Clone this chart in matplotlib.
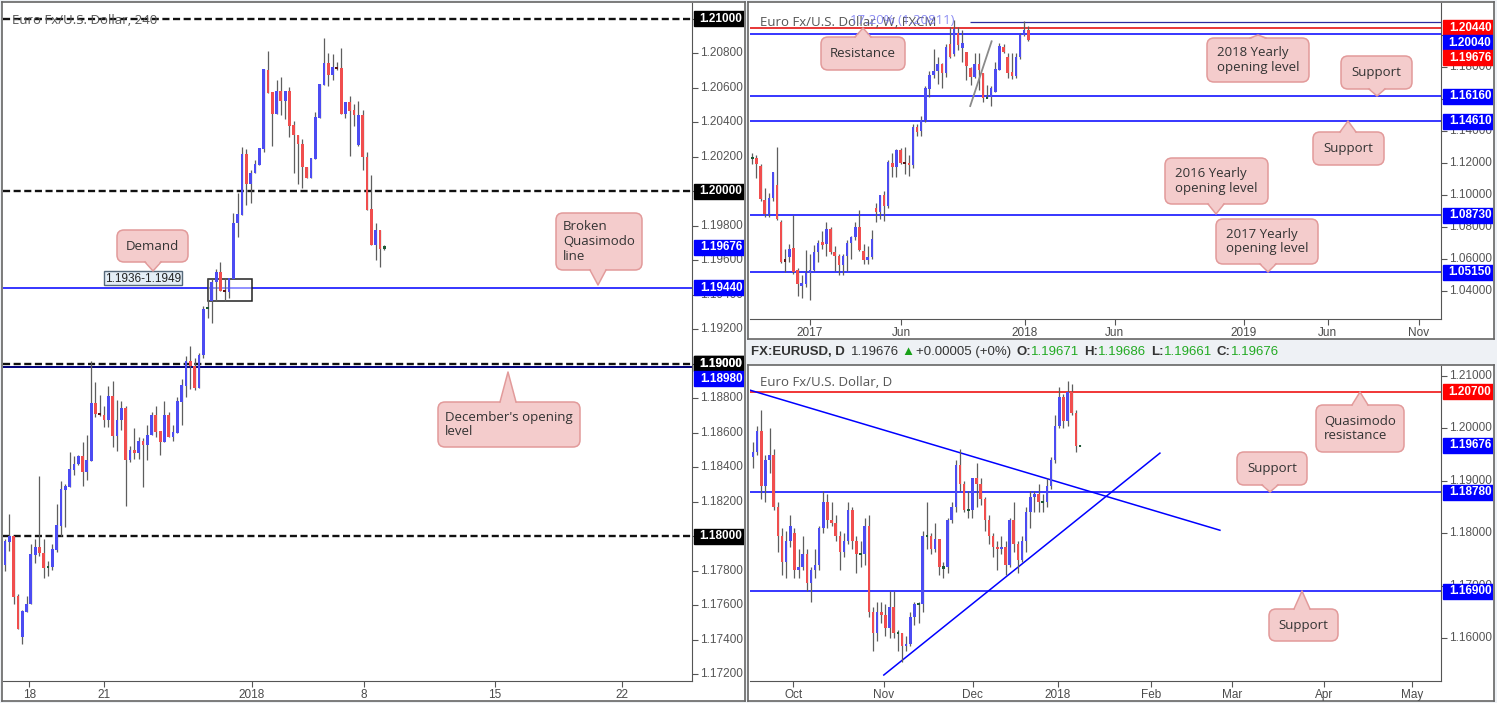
import numpy as np
import matplotlib.pyplot as plt
from matplotlib.patches import Rectangle, FancyBboxPatch, Polygon

plt.rcParams['font.family'] = ['Liberation Sans', 'DejaVu Sans']

# ---- 4h EURUSD (left panel) ----
h4_open = [1.17831, 1.17966, 1.17999, 1.17651, 1.17416, 1.17561, 1.17609, 1.17889, 1.17936, 1.17906,
           1.17816, 1.17821, 1.17918, 1.18059, 1.18268, 1.18285, 1.18382, 1.18417, 1.18463, 1.18372,
           1.18436, 1.18770, 1.18714, 1.18706, 1.18673, 1.18811, 1.18581, 1.18673, 1.18741, 1.18442,
           1.18498, 1.18482, 1.18550, 1.18529, 1.18587, 1.18706, 1.18608, 1.18546, 1.18701, 1.18575,
           1.18598, 1.18778, 1.18874, 1.19014, 1.18990, 1.18859, 1.19051, 1.19320, 1.19366, 1.19473,
           1.19532, 1.19426, 1.19418, 1.19490, 1.19815, 1.19863, 1.20216, 1.20043, 1.20104, 1.20155,
           1.20247, 1.20703, 1.20578, 1.20446, 1.20580, 1.20526, 1.20580, 1.20384, 1.20325, 1.20274,
           1.20143, 1.20075, 1.20189, 1.20425, 1.20618, 1.20746, 1.20674, 1.20717, 1.20715, 1.20448,
           1.20518, 1.20471, 1.20269, 1.20444, 1.20197, 1.19898, 1.19689, 1.19776, 1.19672]
h4_high = [1.17986, 1.18127, 1.17999, 1.17663, 1.17570, 1.17651, 1.17953, 1.17986, 1.18347, 1.17982,
           1.17854, 1.17957, 1.18185, 1.18318, 1.18304, 1.18486, 1.18463, 1.18471, 1.18544, 1.18585,
           1.19019, 1.18892, 1.18822, 1.18758, 1.18869, 1.18898, 1.18793, 1.18787, 1.18758, 1.18521,
           1.18625, 1.18573, 1.18567, 1.18643, 1.18720, 1.18758, 1.18608, 1.18787, 1.18718, 1.18648,
           1.18805, 1.18911, 1.19044, 1.19106, 1.19031, 1.19060, 1.19335, 1.19490, 1.19490, 1.19550,
           1.19588, 1.19496, 1.19496, 1.19876, 1.19992, 1.20259, 1.20243, 1.20124, 1.20182, 1.20251,
           1.20707, 1.20813, 1.20578, 1.20645, 1.20665, 1.20580, 1.20603, 1.20410, 1.20325, 1.20303,
           1.20143, 1.20195, 1.20462, 1.20622, 1.20891, 1.20800, 1.20796, 1.20752, 1.20829, 1.20518,
           1.20553, 1.20506, 1.20526, 1.20471, 1.20228, 1.20095, 1.19818, 1.19776, 1.19689]
h4_low = [1.17798, 1.17914, 1.17609, 1.17462, 1.17377, 1.17561, 1.17609, 1.17845, 1.17883, 1.17758,
          1.17769, 1.17802, 1.17908, 1.18001, 1.18053, 1.18285, 1.18355, 1.18413, 1.18291, 1.18324,
          1.18436, 1.18691, 1.18695, 1.18633, 1.18633, 1.18517, 1.18494, 1.18616, 1.18175, 1.18430,
          1.18447, 1.18447, 1.18285, 1.18442, 1.18587, 1.18575, 1.18471, 1.18546, 1.18575, 1.18552,
          1.18598, 1.18645, 1.18807, 1.18853, 1.18847, 1.18859, 1.19032, 1.19264, 1.19239, 1.19366,
          1.19424, 1.19366, 1.19380, 1.19490, 1.19737, 1.19863, 1.19921, 1.19930, 1.20104, 1.20153,
          1.20230, 1.20572, 1.20265, 1.20446, 1.20442, 1.20417, 1.20317, 1.20108, 1.20041, 1.20017,
          1.20075, 1.20075, 1.20189, 1.20425, 1.20618, 1.20611, 1.20645, 1.20703, 1.20448, 1.20423,
          1.20205, 1.20379, 1.20263, 1.20124, 1.19892, 1.19689, 1.19602, 1.19563, 1.19660]
h4_close = [1.17970, 1.17999, 1.17648, 1.17462, 1.17564, 1.17609, 1.17895, 1.17936, 1.17903, 1.17816,
            1.17825, 1.17924, 1.18063, 1.18272, 1.18289, 1.18388, 1.18420, 1.18463, 1.18372, 1.18440,
            1.18770, 1.18708, 1.18702, 1.18673, 1.18811, 1.18581, 1.18677, 1.18741, 1.18442, 1.18498,
            1.18482, 1.18550, 1.18529, 1.18590, 1.18706, 1.18604, 1.18546, 1.18701, 1.18575, 1.18602,
            1.18782, 1.18880, 1.19014, 1.18985, 1.18859, 1.19054, 1.19318, 1.19324, 1.19473, 1.19532,
            1.19424, 1.19422, 1.19496, 1.19818, 1.19871, 1.20216, 1.20043, 1.20104, 1.20158, 1.20251,
            1.20707, 1.20572, 1.20446, 1.20580, 1.20526, 1.20580, 1.20379, 1.20325, 1.20274, 1.20139,
            1.20075, 1.20193, 1.20429, 1.20622, 1.20746, 1.20674, 1.20719, 1.20713, 1.20448, 1.20518,
            1.20468, 1.20440, 1.20444, 1.20197, 1.19892, 1.19689, 1.19776, 1.19666, 1.19676]
h4_tick_pos = [5.6, 23.0, 57.3, 83.3, 113.7, 143.2]
h4_tick_labels = ['18', '21', '2018', '8', '15', '22']
h4_round_levels = [1.21, 1.20, 1.19, 1.18]
h4_demand = (1.19364, 1.19490)
h4_demand_span = (47.1, 57.2)

# ---- weekly EURUSD (top right) ----
wk_open = [1.1228, 1.1232, 1.1182, 1.0968, 1.0880, 1.0980, 1.1060, 1.0832, 1.0590, 1.0609,
           1.0665, 1.0530, 1.0432, 1.0442, 1.0513, 1.0530, 1.0645, 1.0700, 1.0690, 1.0785,
           1.0640, 1.0615, 1.0560, 1.0620, 1.0700, 1.0735, 1.0800, 1.0651, 1.0590, 1.0612,
           1.0915, 1.0895, 1.1000, 1.0930, 1.1201, 1.1176, 1.1280, 1.1200, 1.1197, 1.1187,
           1.1422, 1.1400, 1.1468, 1.1660, 1.1750, 1.1775, 1.1816, 1.1760, 1.1943, 1.1881,
           1.2014, 1.1916, 1.1895, 1.1791, 1.1735, 1.1816, 1.1760, 1.1604, 1.1614, 1.1645,
           1.1781, 1.1922, 1.1860, 1.1770, 1.1743, 1.1860, 1.2000, 1.2031]
wk_high = [1.1260, 1.1249, 1.1190, 1.1040, 1.1009, 1.1145, 1.1301, 1.0843, 1.0659, 1.0692,
           1.0874, 1.0540, 1.0498, 1.0655, 1.0630, 1.0685, 1.0715, 1.0775, 1.0830, 1.0800,
           1.0680, 1.0630, 1.0630, 1.0715, 1.0745, 1.0830, 1.0905, 1.0690, 1.0680, 1.0780,
           1.0951, 1.0999, 1.1025, 1.1215, 1.1264, 1.1285, 1.1295, 1.1296, 1.1250, 1.1445,
           1.1445, 1.1490, 1.1680, 1.1775, 1.1910, 1.1860, 1.1827, 1.1943, 1.2052, 1.2093,
           1.2052, 1.2031, 1.1895, 1.1802, 1.1885, 1.1885, 1.1760, 1.1687, 1.1681, 1.1833,
           1.1948, 1.1943, 1.1885, 1.1885, 1.1885, 1.2010, 1.2089, 1.2056]
wk_low = [1.1195, 1.1107, 1.0960, 1.0863, 1.0860, 1.0960, 1.0843, 1.0576, 1.0519, 1.0580,
          1.0505, 1.0367, 1.0357, 1.0420, 1.0340, 1.0520, 1.0580, 1.0660, 1.0620, 1.0630,
          1.0520, 1.0495, 1.0495, 1.0525, 1.0600, 1.0720, 1.0650, 1.0570, 1.0570, 1.0600,
          1.0832, 1.0850, 1.0838, 1.0920, 1.1110, 1.1110, 1.1190, 1.1130, 1.1120, 1.1170,
          1.1370, 1.1370, 1.1455, 1.1610, 1.1730, 1.1690, 1.1665, 1.1739, 1.1854, 1.1868,
          1.1906, 1.1833, 1.1718, 1.1687, 1.1729, 1.1656, 1.1583, 1.1603, 1.1554, 1.1645,
          1.1781, 1.1885, 1.1730, 1.1722, 1.1730, 1.1850, 1.1994, 1.1964]
wk_close = [1.1232, 1.1193, 1.0972, 1.0880, 1.0978, 1.1141, 1.0849, 1.0582, 1.0588, 1.0659,
            1.0519, 1.0442, 1.0446, 1.0513, 1.0530, 1.0645, 1.0700, 1.0690, 1.0785, 1.0640,
            1.0615, 1.0560, 1.0620, 1.0700, 1.0735, 1.0800, 1.0655, 1.0590, 1.0612, 1.0722,
            1.0895, 1.0999, 1.0930, 1.1205, 1.1176, 1.1280, 1.1200, 1.1198, 1.1187, 1.1425,
            1.1395, 1.1468, 1.1666, 1.1750, 1.1775, 1.1820, 1.1760, 1.1922, 1.1860, 1.2035,
            1.1937, 1.1947, 1.1806, 1.1735, 1.1816, 1.1781, 1.1604, 1.1610, 1.1666, 1.1785,
            1.1931, 1.1895, 1.1764, 1.1743, 1.1860, 1.2000, 1.2031, 1.19676]
wk_tick_pos = [14.0, 36.1, 66.1, 88.0, 119.3, 139.7, 161.8]
wk_tick_labels = ['2017', 'Jun', '2018', 'Jun', '2019', 'Jun', 'Nov']
wk_ticks = [1.04, 1.06, 1.08, 1.10, 1.12, 1.14, 1.16, 1.18, 1.20]
wk_red_level = 1.2044
wk_blue_levels = [1.2004, 1.1616, 1.1461, 1.0873, 1.0515]
wk_measure_level = 1.20811
wk_swing = ([52.9, 58.1], [1.1555, 1.1960])

# ---- daily EURUSD (bottom right), 18 Sep 2017 .. 9 Jan 2018 ----
d_open = [1.1945, 1.1955, 1.1995, 1.1890, 1.1940, 1.1950, 1.1850, 1.1795, 1.1745, 1.1785,
          1.1800, 1.1730, 1.1735, 1.1760, 1.1705, 1.1730, 1.1740, 1.1810, 1.1860, 1.1825,
          1.1820, 1.1795, 1.1765, 1.1785, 1.1845, 1.1785, 1.1760, 1.1760, 1.1815, 1.1650,
          1.1610, 1.1650, 1.1645, 1.1620, 1.1660, 1.1610, 1.1610, 1.1585, 1.1590, 1.1640,
          1.1665, 1.1665, 1.1795, 1.1795, 1.1770, 1.1790, 1.1735, 1.1735, 1.1825, 1.1850,
          1.1930, 1.1895, 1.1845, 1.1845, 1.1905, 1.1895, 1.1865, 1.1825, 1.1795, 1.1775,
          1.1770, 1.1775, 1.1740, 1.1825, 1.1780, 1.1750, 1.1785, 1.1840, 1.1870, 1.1875,
          1.1860, 1.1860, 1.1890, 1.1940, 1.2005, 1.2060, 1.2015, 1.2070, 1.2030, 1.19671]
d_high = [1.1975, 1.2005, 1.2035, 1.1950, 1.2000, 1.1960, 1.1860, 1.1810, 1.1805, 1.1835,
          1.1810, 1.1770, 1.1795, 1.1770, 1.1735, 1.1770, 1.1815, 1.1880, 1.1875, 1.1860,
          1.1835, 1.1805, 1.1800, 1.1860, 1.1850, 1.1795, 1.1785, 1.1830, 1.1835, 1.1660,
          1.1670, 1.1670, 1.1665, 1.1690, 1.1690, 1.1615, 1.1610, 1.1605, 1.1650, 1.1670,
          1.1670, 1.1805, 1.1860, 1.1800, 1.1820, 1.1790, 1.1745, 1.1830, 1.1860, 1.1940,
          1.1960, 1.1900, 1.1880, 1.1905, 1.1935, 1.1905, 1.1870, 1.1835, 1.1800, 1.1785,
          1.1795, 1.1785, 1.1830, 1.1860, 1.1785, 1.1795, 1.1850, 1.1880, 1.1880, 1.1895,
          1.1875, 1.1905, 1.1945, 1.2025, 1.2080, 1.2065, 1.2090, 1.2085, 1.2035, 1.19686]
d_low = [1.1925, 1.1950, 1.1865, 1.1860, 1.1915, 1.1845, 1.1765, 1.1720, 1.1715, 1.1775,
         1.1715, 1.1715, 1.1730, 1.1690, 1.1670, 1.1715, 1.1730, 1.1800, 1.1810, 1.1815,
         1.1785, 1.1730, 1.1755, 1.1780, 1.1770, 1.1725, 1.1735, 1.1740, 1.1640, 1.1575,
         1.1595, 1.1630, 1.1605, 1.1600, 1.1600, 1.1575, 1.1555, 1.1575, 1.1585, 1.1625,
         1.1630, 1.1650, 1.1770, 1.1760, 1.1765, 1.1720, 1.1715, 1.1725, 1.1820, 1.1840,
         1.1880, 1.1840, 1.1830, 1.1830, 1.1850, 1.1855, 1.1805, 1.1780, 1.1755, 1.1730,
         1.1760, 1.1720, 1.1735, 1.1765, 1.1725, 1.1745, 1.1765, 1.1810, 1.1840, 1.1840,
         1.1840, 1.1850, 1.1885, 1.1935, 1.2000, 1.2000, 1.2005, 1.2025, 1.1955, 1.19661]
d_close = [1.1955, 1.1995, 1.1890, 1.1940, 1.1950, 1.1850, 1.1795, 1.1745, 1.1785, 1.1815,
           1.1730, 1.1735, 1.1760, 1.1705, 1.1730, 1.1740, 1.1810, 1.1860, 1.1825, 1.1820,
           1.1795, 1.1765, 1.1785, 1.1845, 1.1785, 1.1760, 1.1760, 1.1815, 1.1650, 1.1610,
           1.1650, 1.1645, 1.1620, 1.1660, 1.1610, 1.1610, 1.1585, 1.1590, 1.1640, 1.1665,
           1.1665, 1.1795, 1.1795, 1.1770, 1.1790, 1.1735, 1.1735, 1.1825, 1.1850, 1.1930,
           1.1895, 1.1845, 1.1845, 1.1905, 1.1895, 1.1865, 1.1825, 1.1795, 1.1775, 1.1770,
           1.1775, 1.1740, 1.1825, 1.1780, 1.1750, 1.1785, 1.1840, 1.1870, 1.1875, 1.1860,
           1.1860, 1.1890, 1.1940, 1.2005, 1.2060, 1.2015, 1.2070, 1.2030, 1.1967, 1.19676]
d_tick_pos = [9.7, 31.6, 53.1, 73.6, 96.1, 115.7, 137.9, 159.2]
d_tick_labels = ['Oct', 'Nov', 'Dec', '2018', 'Feb', 'Mar', 'Apr', 'May']
d_ticks = [1.16, 1.17, 1.18, 1.19, 1.20, 1.21]
d_red_level = 1.2070
d_blue_levels = [1.1878, 1.1690]
d_down_trend = ([-0.7, 112.8], [1.2073, 1.1806])
d_up_trend = ([31.6, 98.3], [1.1530, 1.1953])

last_price = 1.19676

# ---------------------------------------------------------------
W, H = 1497, 703
fig = plt.figure(figsize=(W / 100, H / 100), dpi=100)
fig.patch.set_facecolor('#eef1f5')

UP, DOWN, WICK = '#4c4cf2', '#f04e4e', '#5e5e5e'
BLUE, RED, NAVY = '#0000ff', '#ff0000', '#00007a'
LBL = '#4a4a4a'
CALLOUT_FONT = ['Open Sans', 'DejaVu Sans']


def px_axes(x0, y0, x1, y1):
    return fig.add_axes([x0 / W, 1 - y1 / H, (x1 - x0) / W, (y1 - y0) / H])


def make_panel(outer, plot, ylim, xlim):
    bg = px_axes(*outer)
    bg.set_xticks([])
    bg.set_yticks([])
    for s in bg.spines.values():
        s.set_color('#666666')
        s.set_linewidth(1.2)
    ax = px_axes(*plot)
    ax.set_xlim(*xlim)
    ax.set_ylim(*ylim)
    ax.spines['top'].set_visible(False)
    ax.spines['left'].set_visible(False)
    for s in ('right', 'bottom'):
        ax.spines[s].set_color('#555555')
    ax.set_yticks([])
    ax.tick_params(axis='x', length=4, color='#555555', labelsize=8.5,
                   labelcolor=LBL, pad=2)
    pax = px_axes(plot[2], plot[1], outer[2] - 1, plot[3])
    pax.set_xlim(0, 1)
    pax.set_ylim(*ylim)
    pax.patch.set_visible(False)
    for s in pax.spines.values():
        s.set_visible(False)
    pax.set_xticks([])
    pax.tick_params(axis='y', direction='in', length=4, color='#555555', labelleft=False)
    return ax, pax


def draw_candles(ax, o, h, l, c, doji_tol, ppu, width=0.62):
    o, h, l, c = (np.asarray(v, dtype=float) for v in (o, h, l, c))
    x = np.arange(len(o))
    diff = c - o
    cols = np.where(diff > 0, UP, DOWN).astype(object)
    small = np.abs(diff) < doji_tol
    cols[small & (diff >= 0)] = '#1e5a36'
    cols[small & (diff < 0)] = '#5a1616'
    ax.vlines(x, l, h, color=WICK, lw=0.9, zorder=4)
    min_h = 2.2 / ppu
    hgt = np.maximum(np.abs(diff), min_h)
    bottom = np.minimum(o, c) - (hgt - np.abs(diff)) / 2
    ax.bar(x, hgt, width, bottom=bottom, color=list(cols), linewidth=0, zorder=5)


def price_ticks(pax, ticks):
    pax.set_yticks(ticks)
    for p in ticks:
        pax.text(0.56, p, f'{p:.5f}', ha='center', va='center', fontsize=8.5, color='#555555')


def level_tags(pax, tags, ppu, hpx=15):
    # tags: (price, colour); push overlapping tags down like the platform does
    tags = sorted(tags, key=lambda t: -t[0])
    half = hpx / 2 / ppu
    prev = None
    for price, col in tags:
        y = price
        if prev is not None and prev - y < 2 * half:
            y = prev - 2 * half
        pax.add_patch(Rectangle((0.03, y - half), 0.97, 2 * half, color=col, zorder=5))
        pax.text(0.56, y, f'{price:.5f}', ha='center', va='center', fontsize=8.5,
                 color='white', fontweight='bold', zorder=6)
        prev = y


# ---- left: 4h ----
ppu_l = 17250
ax, pax = make_panel((2, 2, 745, 701), (3, 3, 692, 681), (1.17161, 1.21092), (-0.46, 159.4))
ax.set_xticks(h4_tick_pos, h4_tick_labels)
for lv in h4_round_levels:
    ax.axhline(lv, color='#111111', lw=1.7, ls=(0, (3, 1.5)), zorder=2)
ax.axhline(1.1944, color=BLUE, lw=1.1, zorder=2)
ax.axhline(1.1898, color=NAVY, lw=1.4, zorder=2)
ax.add_patch(Rectangle((h4_demand_span[0], h4_demand[0]), h4_demand_span[1] - h4_demand_span[0],
                       h4_demand[1] - h4_demand[0], facecolor=(1, 1, 1, 0.45),
                       edgecolor='#222222', lw=1.1, zorder=3))
draw_candles(ax, h4_open, h4_high, h4_low, h4_close, 0.00013, ppu_l, width=0.64)
price_ticks(pax, np.round(np.arange(1.172, 1.2101, 0.002), 3))
level_tags(pax, [(lv, '#000000') for lv in h4_round_levels[:3]], ppu_l)
level_tags(pax, [(1.18, '#000000')], ppu_l)
level_tags(pax, [(last_price, BLUE)], ppu_l)
level_tags(pax, [(1.1944, BLUE)], ppu_l)
level_tags(pax, [(1.19, '#000000'), (1.1898, BLUE)], ppu_l)

# ---- top right: weekly ----
ppu_w = 1598.5
ax, pax = make_panel((748, 2, 1494, 339), (750, 3, 1441, 319), (1.02228, 1.21997), (-0.56, 167.2))
ax.set_xticks(wk_tick_pos, wk_tick_labels)
ax.axhline(wk_red_level, color='#e00000', lw=1.1, zorder=2)
for lv in wk_blue_levels:
    ax.axhline(lv, color=BLUE, lw=1.1, zorder=2)
ax.hlines(wk_measure_level, wk_swing[0][0], 167.2, color='#2b2ba0', lw=0.9, zorder=2)
ax.plot(*wk_swing, color='#8a8a8a', lw=1.3, zorder=6)
draw_candles(ax, wk_open, wk_high, wk_low, wk_close, 0.0007, ppu_w, width=0.6)
price_ticks(pax, wk_ticks)
level_tags(pax, [(wk_red_level, RED), (1.2004, BLUE), (last_price, RED)], ppu_w)
level_tags(pax, [(lv, BLUE) for lv in wk_blue_levels[1:]], ppu_w)

# ---- bottom right: daily ----
ppu_d = 5246
ax, pax = make_panel((748, 365, 1494, 701), (750, 366, 1441, 681), (1.15186, 1.21191), (-0.72, 166.2))
ax.set_xticks(d_tick_pos, d_tick_labels)
ax.axhline(d_red_level, color='#ee0000', lw=1.1, zorder=2)
for lv in d_blue_levels:
    ax.axhline(lv, color=BLUE, lw=1.1, zorder=2)
ax.plot(*d_down_trend, color=BLUE, lw=1.1, zorder=3)
ax.plot(*d_up_trend, color=BLUE, lw=1.1, zorder=3)
draw_candles(ax, d_open, d_high, d_low, d_close, 0.0003, ppu_d, width=0.62)
price_ticks(pax, d_ticks)
level_tags(pax, [(d_red_level, RED)], ppu_d)
level_tags(pax, [(last_price, BLUE)], ppu_d)
level_tags(pax, [(lv, BLUE) for lv in d_blue_levels], ppu_d)

# ---- overlay for titles and callouts (pixel coordinates) ----
ov = fig.add_axes([0, 0, 1, 1])
ov.set_xlim(0, W)
ov.set_ylim(H, 0)
ov.axis('off')
ov.set_zorder(10)

ov.text(12, 20, 'Euro Fx/U.S. Dollar, 240', fontsize=9.5, color='#555555', va='center',
        family=CALLOUT_FONT)
ov.text(760, 22, 'Euro Fx/U.S. Dollar, W, FXCM', fontsize=9.5, color='#555555', va='center',
        family=CALLOUT_FONT)
ov.text(850, 21, '17.20% (1.20811)', fontsize=9.5, color='#7878f0', alpha=0.85, va='center',
        family=CALLOUT_FONT)
ov.text(760, 382, 'Euro Fx/U.S. Dollar, D', fontsize=9.5, color='#555555', va='center',
        family=CALLOUT_FONT)


def callout(text, x0, y0, w, h, tip, fc='#f4cccc', ec='#e29a9a'):
    tx, ty = tip
    base = y0 if ty < y0 else y0 + h
    inset = 1.5 if ty < y0 else -1.5
    ov.add_patch(FancyBboxPatch((x0, y0), w, h, boxstyle='round,pad=0,rounding_size=7',
                                fc=fc, ec=ec, lw=1.1))
    ov.add_patch(Polygon([(tx - 8, base + inset), (tx, ty), (tx + 8, base + inset)],
                         closed=True, fc=fc, ec='none'))
    ov.plot([tx - 8, tx, tx + 8], [base, ty, base], color=ec, lw=1.1)
    ov.text(x0 + w / 2, y0 + h / 2, text, ha='center', va='center', multialignment='left',
            fontsize=9.5, color='#333333', family=CALLOUT_FONT, linespacing=1.15)


callout('Demand', 117, 230, 71, 32, (153, 271))
callout('Broken\nQuasimodo\nline', 556, 213, 86, 57, (598, 285))
callout("December's opening\nlevel", 438, 402, 142, 45, (508, 372))
callout('Resistance', 821, 37, 84, 33, (863, 28))
callout('2018 Yearly\nopening level', 1207, 38, 102, 44, (1258, 35))
callout('Support', 1341, 56, 71, 33, (1377, 96))
callout('Support', 1313, 132, 71, 33, (1348, 121))
callout('2016 Yearly\nopening level', 1165, 158, 103, 46, (1216, 214))
callout('2017 Yearly\nopening level', 1216, 219, 102, 45, (1268, 272))
callout('Quasimodo\nresistance', 1316, 405, 88, 47, (1360, 392))
callout('Support', 1237, 452, 70, 33, (1270, 492))
callout('Support', 1269, 609, 69, 32, (1302, 591))

# demand price tag
ov.add_patch(Rectangle((104, 271), 78, 14, fc='#e4eef6', ec='#56697a', lw=1))
ov.text(143, 278.5, '1.1936-1.1949', ha='center', va='center', fontsize=8.5, color='#222222')

# header line between the right panels
rend = fig.canvas.get_renderer()
parts = [('FX:EURUSD, D', '#333333', 'bold', 6), ('1.19676', '#333333', 'normal', 2),
         ('\u25b2', '#18a018', 'normal', 2), ('+0.00005 (+0%)', '#333333', 'normal', 5),
         ('O:', '#333333', 'bold', 0), ('1.19671', '#22aa22', 'normal', 5),
         ('H:', '#333333', 'bold', 0), ('1.19686', '#22aa22', 'normal', 5),
         ('L:', '#333333', 'bold', 0), ('1.19661', '#22aa22', 'normal', 5),
         ('C:', '#333333', 'bold', 0), ('1.19676', '#22aa22', 'normal', 0)]
hx = 751
for txt, col, wt, gap in parts:
    t = ov.text(hx, 352, txt, color=col, fontweight=wt, fontsize=9.5, va='center', ha='left')
    hx += t.get_window_extent(renderer=rend).width + gap

fig.savefig('out.png', dpi=100, facecolor=fig.get_facecolor())
